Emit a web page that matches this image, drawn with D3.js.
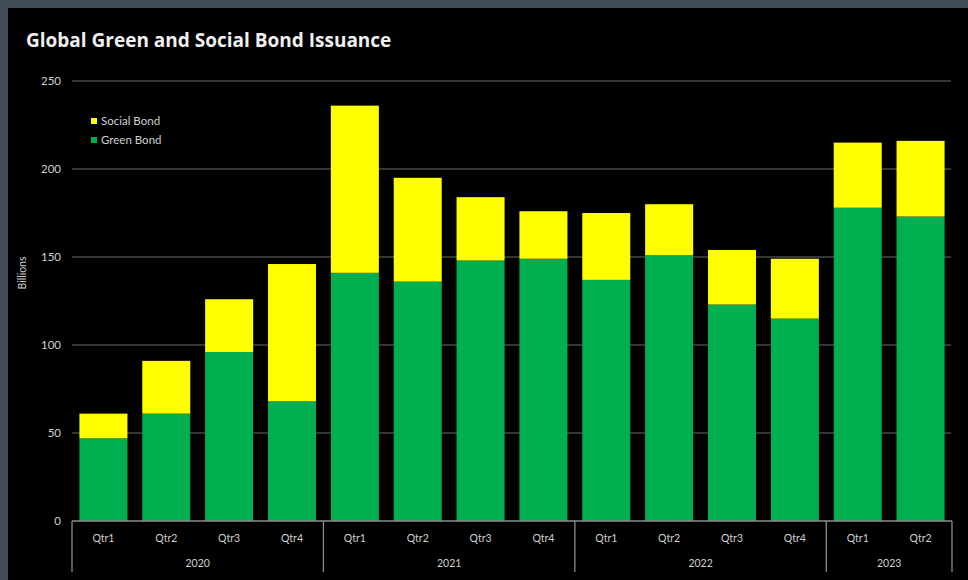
<!DOCTYPE html>
<html>
<head>
<meta charset="utf-8">
<script src="https://cdn.jsdelivr.net/npm/d3@7"></script>
<style>
    html, body { margin: 0; padding: 0; background: #414c59; }
    svg { display: block; }
</style>
</head>
<body>
<svg id="chart"></svg>
<script>
// chart values (billions)
var quarters = ["Qtr1", "Qtr2", "Qtr3", "Qtr4", "Qtr1", "Qtr2", "Qtr3", "Qtr4", "Qtr1", "Qtr2", "Qtr3", "Qtr4", "Qtr1", "Qtr2"];
var years = ["2020", "2020", "2020", "2020", "2021", "2021", "2021", "2021", "2022", "2022", "2022", "2022", "2023", "2023"];
var greenBond = [47, 61, 96, 68, 141, 136, 148, 149, 137, 151, 123, 115, 178, 173];
var socialBond = [14, 30, 30, 78, 95, 59, 36, 27, 38, 29, 31, 34, 37, 43];
var yTicks = [0, 50, 100, 150, 200, 250];

var seriesNames = ["Green Bond", "Social Bond"];
var colors = { "Green Bond": "#00b050", "Social Bond": "#ffff00" };

var dimensions = {
    width: 968,
    height: 580,
    margin: {
        top: 81,
        bottom: 59,
        left: 72,
        right: 16
    }
};

var font = "Lato, 'Open Sans', sans-serif";
var labelColor = "#cfcfcf";

// build the rows that d3.stack wants
var table = quarters.map(function(q, i) {
    return { key: years[i] + "-" + q, quarter: q, year: years[i], "Green Bond": greenBond[i], "Social Bond": socialBond[i] };
});

var svg = d3.select("#chart")
    .attr("width", dimensions.width)
    .attr("height", dimensions.height);

// black panel, slate shows at top and left
svg.append("rect")
    .attr("x", 8).attr("y", 8)
    .attr("width", dimensions.width - 8)
    .attr("height", dimensions.height - 8)
    .attr("fill", "#000");

var plotW = dimensions.width - dimensions.margin.left - dimensions.margin.right;
var plotH = dimensions.height - dimensions.margin.top - dimensions.margin.bottom;

var g = svg.append("g")
    .attr("transform", "translate(" + dimensions.margin.left + "," + dimensions.margin.top + ")");

var xScale = d3.scaleBand()
    .domain(table.map(function(d) { return d.key; }))
    .range([0, plotW])
    .paddingInner(0.236)
    .paddingOuter(0.118);

var yScale = d3.scaleLinear()
    .domain([0, 250])
    .range([plotH, 0]);

// gridlines
g.selectAll(".grid")
    .data(yTicks.filter(function(t) { return t > 0; }))
    .enter()
    .append("line")
    .attr("class", "grid")
    .attr("x1", 0)
    .attr("x2", plotW - 1)
    .attr("y1", function(d) { return yScale(d); })
    .attr("y2", function(d) { return yScale(d); })
    .attr("stroke", "#474747")
    .attr("stroke-width", 1.3);

// y axis labels, no axis line
var yAxis = g.append("g")
    .attr("transform", "translate(-11,0)")
    .call(d3.axisLeft(yScale).tickValues(yTicks).tickSize(0).tickPadding(0));
yAxis.select(".domain").remove();
yAxis.selectAll("text")
    .attr("fill", labelColor)
    .style("font-family", font)
    .style("font-size", "11.5px");

svg.append("text")
    .attr("transform", "translate(26,273) rotate(-90)")
    .attr("text-anchor", "middle")
    .attr("fill", labelColor)
    .style("font-family", font)
    .style("font-size", "10.5px")
    .text("Billions");

// stacked bars
var stacked = d3.stack().keys(seriesNames)(table);

g.selectAll(".series")
    .data(stacked)
    .enter()
    .append("g")
    .attr("class", "series")
    .attr("fill", function(s) { return colors[s.key]; })
    .selectAll("rect")
    .data(function(s) { return s; })
    .enter()
    .append("rect")
    .attr("x", function(d) { return xScale(d.data.key); })
    .attr("y", function(d) { return yScale(d[1]); })
    .attr("width", xScale.bandwidth())
    .attr("height", function(d) { return yScale(d[0]) - yScale(d[1]); });

// x axis line
g.append("line")
    .attr("x1", 0).attr("x2", plotW)
    .attr("y1", plotH).attr("y2", plotH)
    .attr("stroke", "#8c8c8c")
    .attr("stroke-width", 1.3);

// quarter labels
g.selectAll(".qlabel")
    .data(table)
    .enter()
    .append("text")
    .attr("class", "qlabel")
    .attr("x", function(d) { return xScale(d.key) + xScale.bandwidth() / 2; })
    .attr("y", plotH + 21)
    .attr("text-anchor", "middle")
    .attr("fill", labelColor)
    .style("font-family", font)
    .style("font-size", "10.5px")
    .text(function(d) { return d.quarter; });

// year groups with separator lines
var yearGroups = d3.groups(table, function(d) { return d.year; });
var step = xScale.step();
var sepLen = 51;

yearGroups.forEach(function(grp) {
    var first = grp[1][0].key;
    var last = grp[1][grp[1].length - 1].key;
    var x0 = xScale(first) - step * xScale.paddingOuter();
    var x1 = xScale(last) + xScale.bandwidth() + step * xScale.paddingOuter();

    g.append("line")
        .attr("x1", x0).attr("x2", x0)
        .attr("y1", plotH).attr("y2", plotH + sepLen)
        .attr("stroke", "#8c8c8c")
        .attr("stroke-width", 1.3);

    g.append("text")
        .attr("x", (x0 + x1) / 2)
        .attr("y", plotH + 46)
        .attr("text-anchor", "middle")
        .attr("fill", labelColor)
        .style("font-family", font)
        .style("font-size", "10.5px")
        .text(grp[0]);
});

// closing separator on the right end
g.append("line")
    .attr("x1", plotW).attr("x2", plotW)
    .attr("y1", plotH).attr("y2", plotH + sepLen)
    .attr("stroke", "#8c8c8c")
    .attr("stroke-width", 1.3);

// legend, social first like the original
var legend = svg.append("g")
    .attr("transform", "translate(91,121)");

legend.selectAll("g")
    .data(["Social Bond", "Green Bond"])
    .enter()
    .append("g")
    .attr("transform", function(d, i) { return "translate(0," + (i * 19) + ")"; })
    .each(function(d) {
        var item = d3.select(this);
        item.append("rect")
            .attr("x", 0).attr("y", -3)
            .attr("width", 6).attr("height", 6)
            .attr("fill", colors[d]);
        item.append("text")
            .attr("x", 10)
            .attr("y", 0)
            .attr("dy", "0.35em")
            .attr("fill", labelColor)
            .style("font-family", font)
            .style("font-size", "11.5px")
            .text(d);
    });

// title
svg.append("text")
    .attr("x", 26)
    .attr("y", 47)
    .attr("fill", "#f0f0f0")
    .style("font-family", "'Open Sans', Lato, sans-serif")
    .style("font-weight", "bold")
    .style("font-size", "19px")
    .text("Global Green and Social Bond Issuance");
</script>
</body>
</html>
